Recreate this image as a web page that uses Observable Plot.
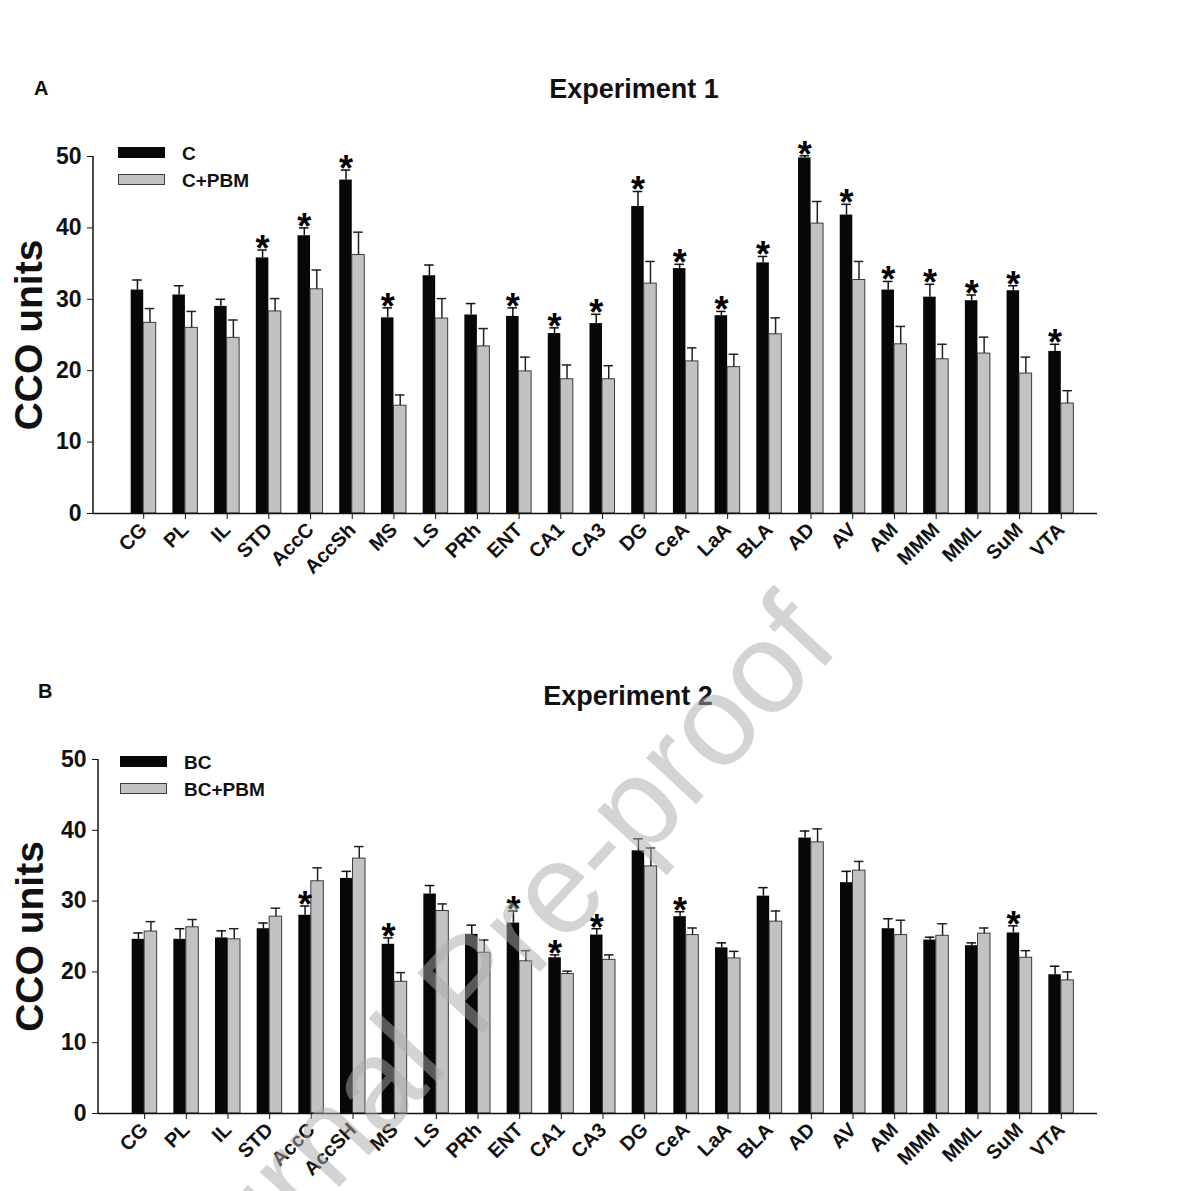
<!DOCTYPE html>
<html>
<head>
<meta charset="utf-8">
<script src="https://cdn.jsdelivr.net/npm/d3@7"></script>
<script src="https://cdn.jsdelivr.net/npm/@observablehq/plot@0.6"></script>
<style>
  body { margin: 0; background: #fff; }
  #wrap { position: relative; width: 1177px; height: 1191px; overflow: hidden; background: #fff;
          font-family: "Liberation Sans", Arial, sans-serif; color: #111; }
  .panel { position: absolute; left: 0; }
  .plabel { position: absolute; font-weight: bold; font-size: 20px; line-height: 1; }
  .title { position: absolute; font-weight: bold; font-size: 27px; line-height: 1; transform: translateX(-50%); white-space: nowrap; }
  .leg { position: absolute; font-weight: bold; font-size: 19px; line-height: 1; }
  .sw { position: absolute; box-sizing: border-box; }
  .lt { position: absolute; white-space: nowrap; transform: translateY(-50%); }
  #wm { position: absolute; left: 0; top: 0; pointer-events: none; }
</style>
</head>
<body>
<div id="wrap"></div>
<script>
// ---------- data ----------
const regionsA = ["CG","PL","IL","STD","AccC","AccSh","MS","LS","PRh","ENT","CA1","CA3","DG","CeA","LaA","BLA","AD","AV","AM","MMM","MML","SuM","VTA"];
const regionsB = ["CG","PL","IL","STD","AccC","AccSH","MS","LS","PRh","ENT","CA1","CA3","DG","CeA","LaA","BLA","AD","AV","AM","MMM","MML","SuM","VTA"];

const seriesA = ["C", "C+PBM"];
const meanA_C   = [31.3,30.6,29.0,35.8,38.9,46.7,27.4,33.3,27.8,27.6,25.2,26.6,43.0,34.3,27.7,35.1,49.8,41.8,31.3,30.3,29.8,31.2,22.7];
const semA_C    = [1.4, 1.3, 1.0, 1.1, 1.1, 1.4, 1.4, 1.5, 1.6, 1.2, 0.8, 1.3, 2.1, 0.6, 0.6, 0.9, 0.3, 1.5, 1.2, 1.8, 0.8, 0.7, 1.0];
const meanA_PBM = [26.7,26.0,24.6,28.3,31.4,36.2,15.1,27.3,23.4,19.9,18.8,18.8,32.2,21.3,20.5,25.1,40.6,32.7,23.7,21.6,22.4,19.6,15.4];
const semA_PBM  = [2.0, 2.3, 2.5, 1.8, 2.7, 3.2, 1.5, 2.8, 2.5, 2.0, 2.0, 1.9, 3.1, 1.9, 1.8, 2.3, 3.1, 2.6, 2.5, 2.1, 2.3, 2.3, 1.8];
const sigA = ["STD","AccC","AccSh","MS","ENT","CA1","CA3","DG","CeA","LaA","BLA","AD","AV","AM","MMM","MML","SuM","VTA"];

const seriesB = ["BC", "BC+PBM"];
const meanB_BC  = [24.6,24.6,24.8,26.1,28.0,33.2,23.9,31.0,25.3,26.9,22.0,25.2,37.1,27.8,23.4,30.7,38.9,32.6,26.1,24.5,23.7,25.5,19.6];
const semB_BC   = [0.9, 1.5, 1.0, 0.8, 1.3, 1.0, 0.9, 1.2, 1.3, 1.7, 0.4, 0.9, 1.7, 0.7, 0.7, 1.2, 1.0, 1.6, 1.4, 0.4, 0.4, 1.0, 1.2];
const meanB_PBM = [25.7,26.3,24.6,27.8,32.8,36.0,18.6,28.6,22.7,21.5,19.7,21.7,34.9,25.2,21.9,27.1,38.3,34.3,25.2,25.1,25.4,22.0,18.8];
const semB_PBM  = [1.4, 1.1, 1.5, 1.2, 1.9, 1.7, 1.3, 1.0, 1.8, 1.5, 0.4, 0.7, 2.6, 1.0, 1.0, 1.5, 1.9, 1.3, 2.1, 1.7, 0.8, 1.0, 1.2];
const sigB = ["AccC","MS","ENT","CA1","CA3","CeA","SuM"];

const yTicks = [0, 10, 20, 30, 40, 50];
const yLabel = "CCO units";
const titles = ["Experiment 1", "Experiment 2"];
const panelLetters = ["A", "B"];
const watermark = "Journal Pre-proof";

// ---------- drawing ----------
const FONT = "Liberation Sans, Arial, sans-serif";
const BW = 12.5; // width of one bar (half of the band)

function makePanel(cats, m1, s1, m2, s2, sig, cfg) {
  const dark = cats.map((c, i) => ({cat: c, mean: m1[i], top: m1[i] + s1[i]}));
  const light = cats.map((c, i) => ({cat: c, mean: m2[i], top: m2[i] + s2[i]}));
  const stars = dark.filter(d => sig.includes(d.cat));
  const chart = Plot.plot({
    width: 1177,
    height: cfg.height,
    marginLeft: cfg.ml,
    marginRight: cfg.mr,
    marginTop: cfg.mt,
    marginBottom: cfg.mb,
    style: {fontFamily: FONT, background: "transparent", color: "#111", overflow: "visible"},
    x: {domain: cats, padding: 0.4, round: false, insetLeft: cfg.il, insetRight: cfg.ir, label: null},
    y: {domain: [0, 50], label: null},
    marks: [
      Plot.barY(dark, {x: "cat", y: "mean", fill: "#070707", insetRight: BW}),
      Plot.barY(light, {x: "cat", y: "mean", fill: "#c2c2c2", stroke: "#3c3c3c", strokeWidth: 1, insetLeft: BW}),
      Plot.ruleX(dark, {x: "cat", y1: "mean", y2: "top", dx: -BW / 2, stroke: "#111", strokeWidth: 1.5}),
      Plot.ruleX(light, {x: "cat", y1: "mean", y2: "top", dx: BW / 2, stroke: "#222", strokeWidth: 1.5}),
      Plot.tickY(dark, {x: "cat", y: "top", insetLeft: 1.5, insetRight: 14, stroke: "#111", strokeWidth: 1.5}),
      Plot.tickY(light, {x: "cat", y: "top", insetLeft: 14, insetRight: 1.5, stroke: "#222", strokeWidth: 1.5}),
      Plot.text(stars, {x: "cat", y: "top", text: () => "*", dx: -BW / 2, dy: 11, lineAnchor: "bottom",
                        fontSize: 36, fontWeight: "bold", fill: "#000"}),
      Plot.ruleY([0], {stroke: "#111", strokeWidth: 1.5}),
      Plot.axisY({ticks: yTicks, tickSize: 6, tickPadding: 6, fontSize: 23, fontWeight: "bold", label: null, tickFormat: d => String(d)}),
      Plot.axisX({tickSize: 6, tickPadding: 7, tickRotate: -45, fontSize: 20, fontWeight: "bold", label: null}),
      Plot.text([yLabel], {frameAnchor: "left", textAnchor: "middle", lineAnchor: "middle", rotate: -90, dx: cfg.labDx,
                           fontSize: 39, fontWeight: "bold", fill: "#111"})
    ]
  });
  // vertical spine of the y axis
  const y = chart.scale("y");
  d3.select(chart).append("line")
    .attr("x1", cfg.ml).attr("x2", cfg.ml)
    .attr("y1", y.apply(0)).attr("y2", y.apply(50))
    .attr("stroke", "#111").attr("stroke-width", 1.5);
  return chart;
}

const wrap = document.getElementById("wrap");

function addPanel(idx, top, cfg, cats, m1, s1, m2, s2, sig, names) {
  const div = document.createElement("div");
  div.className = "panel";
  div.style.top = top + "px";
  div.appendChild(makePanel(cats, m1, s1, m2, s2, sig, cfg));
  wrap.appendChild(div);

  const lab = document.createElement("div");
  lab.className = "plabel";
  lab.textContent = panelLetters[idx];
  lab.style.left = cfg.letterX + "px";
  lab.style.top = cfg.letterY + "px";
  wrap.appendChild(lab);

  const t = document.createElement("div");
  t.className = "title";
  t.textContent = titles[idx];
  t.style.left = cfg.titleX + "px";
  t.style.top = cfg.titleY + "px";
  wrap.appendChild(t);

  // legend
  const leg = document.createElement("div");
  leg.className = "leg";
  leg.style.left = cfg.legX + "px";
  leg.style.top = cfg.legY + "px";
  names.forEach((n, i) => {
    const sw = document.createElement("div");
    sw.className = "sw";
    sw.style.left = "0px";
    sw.style.top = (i * 27) + "px";
    sw.style.width = "47px";
    sw.style.height = "11px";
    sw.style.background = i === 0 ? "#070707" : "#c2c2c2";
    sw.style.border = i === 0 ? "1px solid #070707" : "1px solid #3c3c3c";
    leg.appendChild(sw);
    const lt = document.createElement("div");
    lt.className = "lt";
    lt.style.left = "64px";
    lt.style.top = (i * 27 + 6) + "px";
    lt.textContent = n;
    leg.appendChild(lt);
  });
  wrap.appendChild(leg);
}

addPanel(0, 110,
  {height: 485, ml: 93, mr: 80, mt: 46, mb: 82, il: 21, ir: 7, labDx: -64,
   letterX: 34, letterY: 78, titleX: 634, titleY: 76, legX: 118, legY: 147},
  regionsA, meanA_C, semA_C, meanA_PBM, semA_PBM, sigA, seriesA);

addPanel(1, 715,
  {height: 476, ml: 98, mr: 80, mt: 44, mb: 78, il: 17, ir: 7, labDx: -68,
   letterX: 38, letterY: 681, titleX: 628, titleY: 683, legX: 120, legY: 756},
  regionsB, meanB_BC, semB_BC, meanB_PBM, semB_PBM, sigB, seriesB);

// watermark overlay
const ns = "http://www.w3.org/2000/svg";
const wm = document.createElementNS(ns, "svg");
wm.setAttribute("id", "wm");
wm.setAttribute("width", 1177);
wm.setAttribute("height", 1191);
const wt = document.createElementNS(ns, "text");
wt.setAttribute("x", 162);
wt.setAttribute("y", 1377);
wt.setAttribute("transform", "rotate(-47 162 1377)");
wt.setAttribute("font-family", FONT);
wt.setAttribute("font-size", 129);
wt.setAttribute("fill", "rgb(170,170,170)");
wt.setAttribute("fill-opacity", 0.5);
wt.textContent = watermark;
wm.appendChild(wt);
wrap.appendChild(wm);
</script>
</body>
</html>
